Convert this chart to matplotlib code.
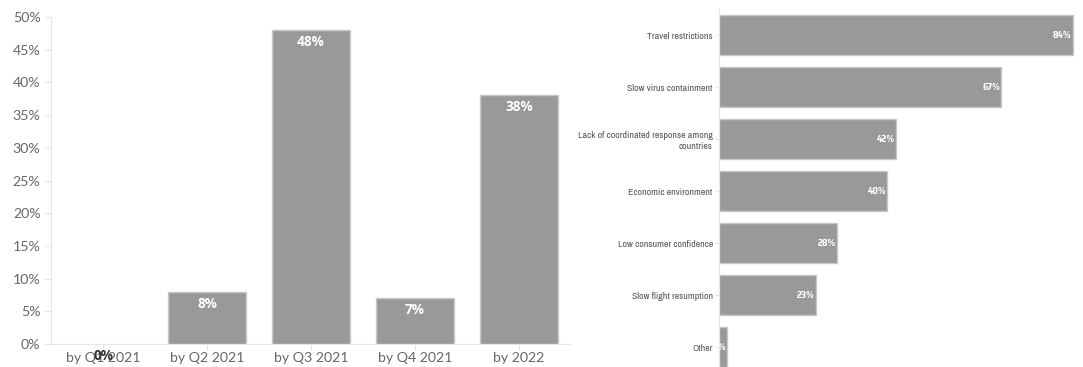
import matplotlib
matplotlib.use("Agg")
import matplotlib.pyplot as plt
import matplotlib.transforms as mtransforms

# Left chart data
periods = ["by Q1 2021", "by Q2 2021", "by Q3 2021", "by Q4 2021", "by 2022"]
period_values = [0, 8, 48, 7, 38]
yticks_left = [0, 5, 10, 15, 20, 25, 30, 35, 40, 45, 50]

# Right chart data
reasons = ["Travel restrictions", "Slow virus containment",
           "Lack of coordinated response among\ncountries",
           "Economic environment", "Low consumer confidence",
           "Slow flight resumption", "Other"]
reason_values = [84, 67, 42, 40, 28, 23, 2]

NARROW = ["Archivo Narrow", "DejaVu Sans"]
NARROW_BOLD = ["Saira SemiCondensed", "Archivo Narrow", "DejaVu Sans"]
LEFTFONT = ["Lato", "DejaVu Sans"]
BOLDFONT = ["Open Sans", "DejaVu Sans"]

BAR = "#999999"
EDGE = "#c8c8c8"
AX = "#e6e6e6"
TXT = "#666666"

fig = plt.figure(figsize=(10.83, 3.67), dpi=100)

# ---- Left ----
axL = fig.add_axes([51/1083, 1-344/367, 520/1083, 327/367])
x = list(range(len(periods)))
axL.bar(x, period_values, width=0.75, color=BAR,
        edgecolor=[EDGE if v > 0 else "none" for v in period_values], linewidth=1)
axL.set_xlim(-0.5, 4.5)
axL.set_ylim(0, 50)
axL.set_yticks(yticks_left)
axL.set_yticklabels([f"{v}%" for v in yticks_left], family=LEFTFONT)
axL.set_xticks(x)
axL.set_xticklabels(periods, family=LEFTFONT)
for s in ["top", "right"]:
    axL.spines[s].set_visible(False)
for s in ["left", "bottom"]:
    axL.spines[s].set_color(AX)
axL.tick_params(axis="both", colors=AX, labelcolor=TXT, labelsize=10.2, length=4)
axL.tick_params(axis="x", pad=2)
off = mtransforms.offset_copy(axL.transData, fig=fig, x=0, y=-3.5, units="points")
for xi, v in zip(x, period_values):
    axL.text(xi, v, f"{v}%", ha="center", va="top", transform=off, family=BOLDFONT,
             color="white" if v > 0 else "#333333", fontsize=9.8, fontweight="bold")

# ---- Right ----
axR = fig.add_axes([719/1083, -6/367, 358/1083, 364/367])
y = list(range(len(reasons)))
axR.barh(y, reason_values, height=0.77, color=BAR, edgecolor=EDGE, linewidth=1)
axR.set_xlim(0, 85)
axR.set_ylim(len(reasons) - 0.5, -0.5)
axR.set_yticks(y)
axR.set_yticklabels(reasons, fontsize=7.1, color="#555555", linespacing=1.25,
                    family=NARROW)
axR.set_xticks([])
for s in ["top", "right", "bottom"]:
    axR.spines[s].set_visible(False)
axR.spines["left"].set_color(AX)
axR.tick_params(axis="y", colors=AX, labelcolor="#555555", length=3, pad=1.5)
offR = mtransforms.offset_copy(axR.transData, fig=fig, x=-1, y=0, units="points")
for yi, v in zip(y, reason_values):
    axR.text(v, yi, f"{v}%", ha="right", va="center", transform=offR, family=NARROW_BOLD,
             color="white", fontsize=6.8, fontweight="bold")

fig.savefig("out.png", dpi=100)
